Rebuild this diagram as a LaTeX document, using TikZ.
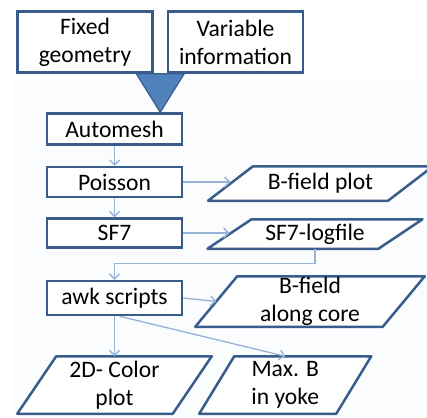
\documentclass[tikz,border=0pt]{standalone}
\usepackage{fontspec}
\setmainfont{Carlito}
\usetikzlibrary{arrows.meta, positioning, calc, backgrounds}
\definecolor{boxline}{RGB}{56,93,138}
\definecolor{mergefill}{RGB}{79,129,189}
\definecolor{flowline}{RGB}{149,179,215}
\definecolor{paper}{RGB}{251,252,253}
\tikzset{
  block/.style = {draw=boxline, line width=2.5pt, fill=white, align=center, inner sep=0pt,
    font=\fontsize{23.6}{28}\selectfont, minimum width=135pt},
  datatext/.style = {align=center, inner sep=0pt, outer sep=0pt,
    font=\fontsize{23.6}{28}\selectfont},
  dataline/.style = {draw=boxline, line width=2.5pt, fill=white, line join=round},
  arrow/.style = {-{Straight Barb[length=5pt,width=10pt]}, draw=flowline, line width=1.3pt}
}

\begin{document}
\begin{tikzpicture}[x=1pt, y=-1pt]

    \useasboundingbox (0,0) rectangle (427,417);

    \node[block, minimum height=61pt] (fixed) at (85,42) {Fixed\\geometry};
    \node[block, minimum height=61pt, right=13pt of fixed] (variable) {Variable\\information};

    \node[block, minimum height=31pt] (automesh) at (114.5,129) {Automesh};
    \node[block, minimum height=30pt, below=20pt of automesh] (poisson) {Poisson};
    \node[block, minimum height=29pt, below=19pt of poisson] (sf7) {SF7};
    \node[block, minimum height=34pt, below=31pt of sf7] (awk) {awk scripts};

    \node[datatext, minimum width=180pt, minimum height=34.5pt] (bplot) at (320.5,183.5) {B-field plot};
    \node[datatext, minimum width=171pt, minimum height=29.5pt] (logfile) at (315,234) {SF7-logfile};
    \node[datatext, minimum width=187.5pt, minimum height=50.5pt] (core) at (310,301.5) {B-field\\along core};
    \node[datatext, minimum width=155.5pt, minimum height=57.5pt] (colorplot) at (114.5,385) {2D- Color\\plot};
    \node[datatext, minimum width=137pt, minimum height=57.5pt] (maxb) at (285.25,385) {Max. B\\in yoke};

    % slanted outlines behind the data texts
    \begin{scope}[on background layer]
      \fill[paper] (14,80) rectangle (427,417);
      \foreach \n/\s in {bplot/22.5, logfile/22, core/21, colorplot/19.5, maxb/17.5}
        \draw[dataline] ([xshift=\s pt]\n.north west) -- ([xshift=\s pt]\n.north east)
          -- ([xshift=-\s pt]\n.south east) -- ([xshift=-\s pt]\n.south west) -- cycle;
    \end{scope}

    % merge of the two inputs
    \coordinate (mergetop) at ($(fixed.south east)!0.5!(variable.south west)$);
    \coordinate (mergetip) at (mergetop |- automesh.north);
    \filldraw[fill=mergefill, draw=boxline, line width=1.2pt, line join=round]
      ($(mergetop)+(-24,0)$) -- ($(mergetop)+(24,0)$) -- (mergetip) -- cycle;

    \draw[arrow] (automesh) -- (poisson);
    \draw[arrow] (poisson) -- (sf7);
    \draw[arrow] (poisson.east) -- (poisson.east -| bplot.west);
    \draw[arrow] (sf7.east) -- (sf7.east -| logfile.west);
    \draw[arrow] (logfile.south) -- ++(0,15) -| (awk.north);
    \draw[arrow] (awk.east) -- (core.west);
    \draw[arrow] (awk.south) -- (colorplot.north);
    \draw[arrow] ([xshift=5pt]awk.south) -- (maxb.north);

  \end{tikzpicture}
\end{document}
